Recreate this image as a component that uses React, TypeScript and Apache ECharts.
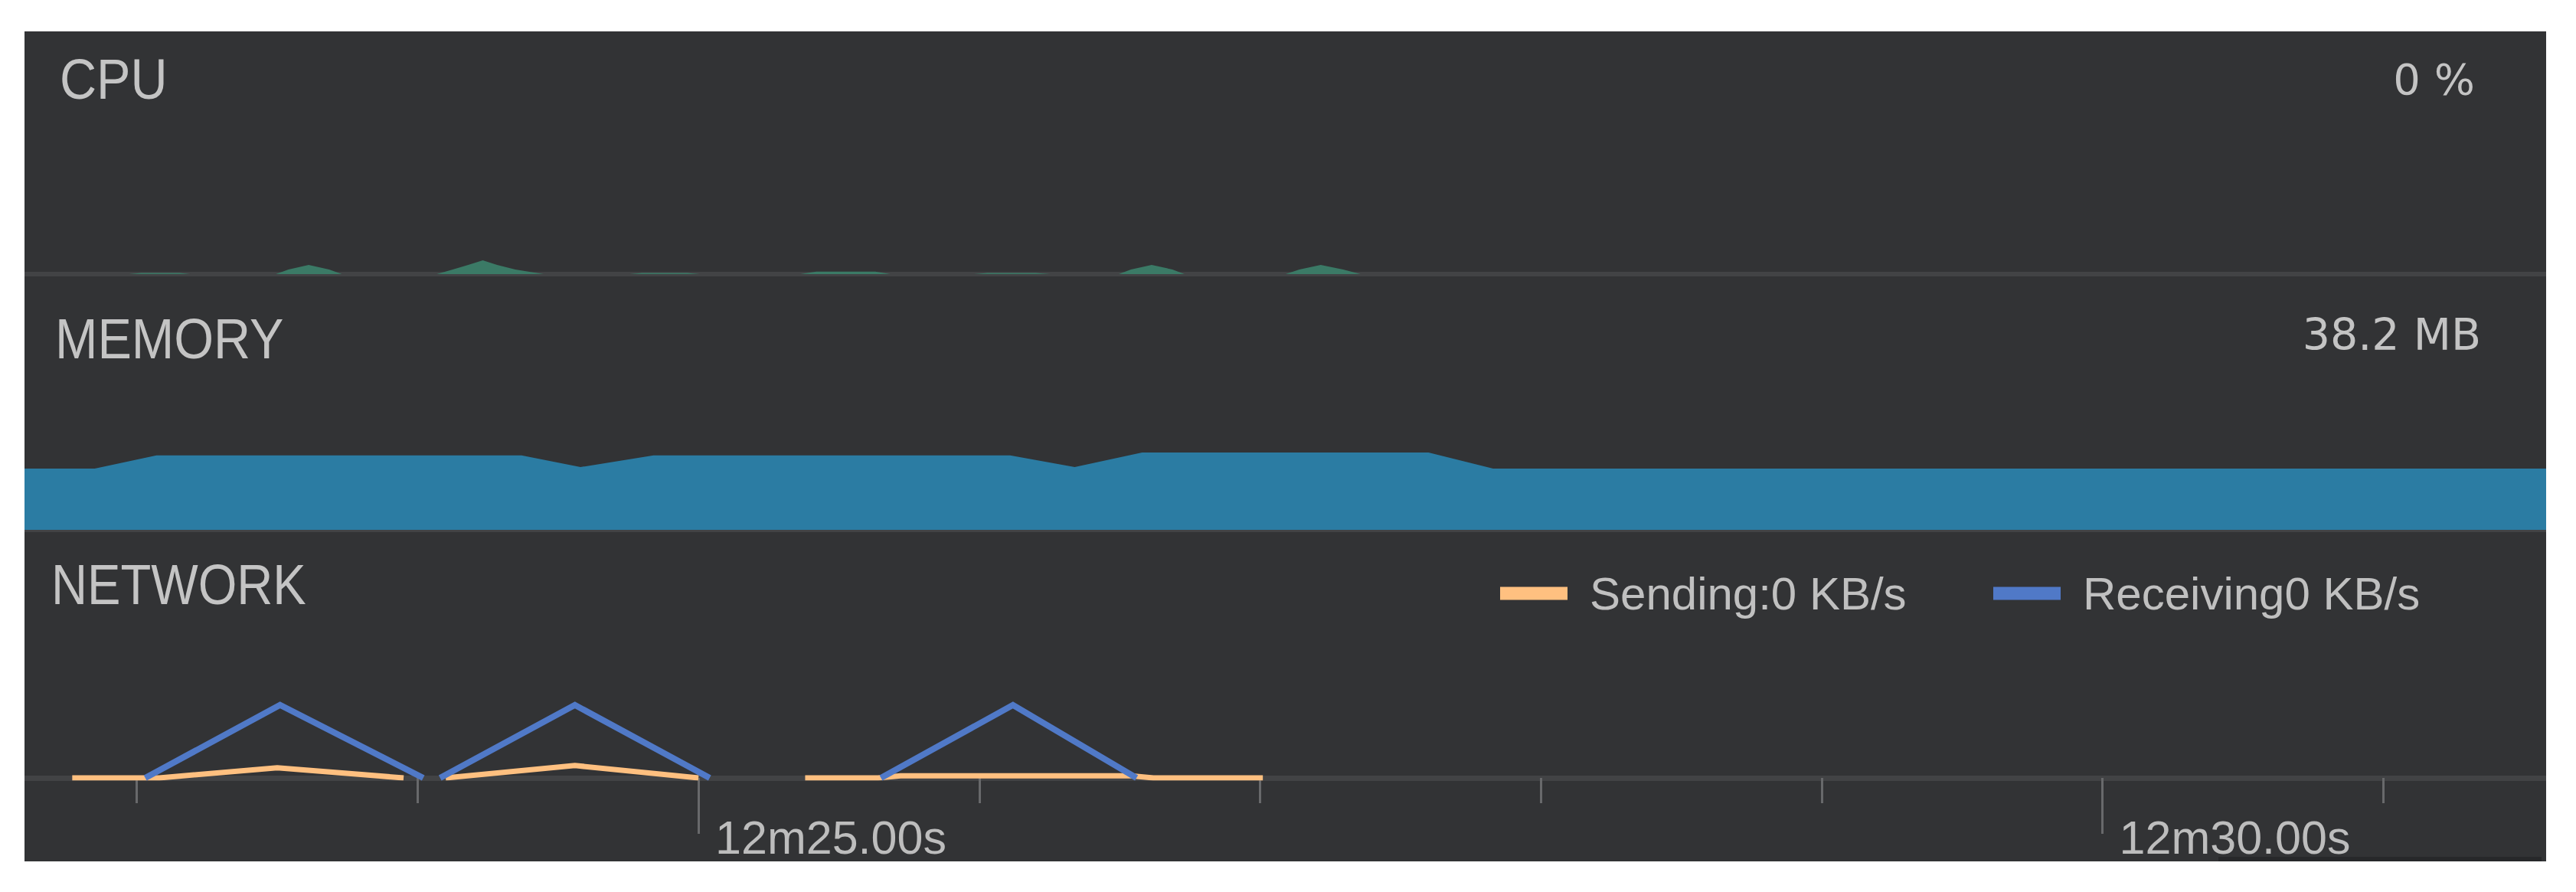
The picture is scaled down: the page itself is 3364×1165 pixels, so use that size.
import React, { useEffect, useRef } from 'react';
import * as echarts from 'echarts';

// ---- data (time in seconds after 12m) ----
const AXIS_MIN = 22.6;
const AXIS_MAX = 31.58;
const minorTickSeconds = [23, 24, 25, 26, 27, 28, 29, 30, 31];
const majorTickSeconds = [25, 30];

const cpuTimes = [22.6, 22.972, 23.015, 23.152, 23.19, 23.495, 23.54, 23.612, 23.685, 23.73, 24.068, 24.125, 24.18, 24.232, 24.283, 24.348, 24.449, 24.755, 24.8, 24.96, 25.005, 25.363, 25.42, 25.63, 25.684, 25.981, 26.03, 26.2, 26.254, 26.497, 26.54, 26.614, 26.688, 26.731, 27.091, 27.14, 27.216, 27.296, 27.358, 31.58];
const cpuValues = [0, 0, 0.5, 0.5, 0, 0, 1.9, 3.8, 1.9, 0, 0, 1.9, 3.8, 5.7, 3.8, 1.9, 0, 0, 0.5, 0.5, 0, 0, 1.0, 1.0, 0, 0, 0.5, 0.5, 0, 0, 1.9, 3.8, 1.9, 0, 0, 1.9, 3.8, 1.9, 0, 0];

const memoryTimes = [22.6, 22.85, 23.07, 24.37, 24.58, 24.84, 26.11, 26.34, 26.58, 27.6, 27.83, 31.58];
const memoryValues = [38.2, 38.2, 46.4, 46.4, 39.1, 46.4, 46.4, 39.1, 48.2, 48.2, 38.2, 38.2];

const sendTimes = [22.77, 23.08, 23.5, 23.95, 24.0, 24.1, 24.56, 25.0, 25.1, 25.38, 25.64, 25.72, 26.54, 26.62, 27.01];
const sendValues = [0, 0, 0.14, 0, null, 0, 0.17, 0, null, 0, 0, 0.03, 0.03, 0, 0];

const recvTimes = [23.03, 23.51, 24.02, 24.05, 24.08, 24.56, 25.04, 25.3, 25.65, 26.12, 26.56];
const recvValues = [0, 1.0, 0, null, 0, 1.0, 0, null, 0, 1.0, 0];

const cpuCurrent = '0 %';
const memoryCurrent = '38.2 MB';
const sendingName = 'Sending:0 KB/s';
const receivingName = 'Receiving0 KB/s';

const zip = (ts: number[], vs: (number | null)[]) => ts.map((t, i) => [t, vs[i] === null ? '-' : vs[i]]);

const SEP = '#424345';
const TEXT = '#c4c4c4';
const TICK = '#68696b';
const PANEL = '#323335';

export default function App() {
  const ref = useRef<HTMLDivElement>(null);
  useEffect(() => {
    if (!ref.current) return;
    const chart = echarts.init(ref.current, undefined, { renderer: 'svg' });
    const hiddenX = (gridIndex: number) => ({
      type: 'value', gridIndex, min: AXIS_MIN, max: AXIS_MAX, position: 'bottom', offset: 3,
      axisLine: { show: true, lineStyle: { color: SEP, width: 6, cap: 'butt' } },
      axisTick: { show: false }, axisLabel: { show: false }, splitLine: { show: false },
    });
    const hiddenY = (gridIndex: number, max: number) => ({
      type: 'value', gridIndex, min: 0, max, show: false, splitLine: { show: false },
    });
    const legendText = { color: '#c0c0c0', fontSize: 60, fontFamily: 'Liberation Sans', padding: [0, 0, 0, 24] };
    chart.setOption({
      animation: false,
      backgroundColor: '#ffffff',
      grid: [
        { left: 32, right: 39, top: 41, height: 317 },
        { left: 32, right: 39, top: 363, height: 329 },
        { left: 32, right: 39, top: 697, height: 319 },
      ],
      xAxis: [
        hiddenX(0),
        hiddenX(1),
        {
          type: 'value', gridIndex: 2, min: AXIS_MIN, max: AXIS_MAX, position: 'bottom', offset: 6,
          axisLine: { show: true, lineStyle: { color: SEP, width: 7, cap: 'butt' } },
          axisTick: { show: true, customValues: minorTickSeconds, length: 33, lineStyle: { color: TICK, width: 3 } },
          axisLabel: { show: false }, splitLine: { show: false },
        },
        {
          type: 'value', gridIndex: 2, min: AXIS_MIN, max: AXIS_MAX, position: 'bottom', offset: 6,
          axisLine: { show: false },
          axisTick: { show: true, customValues: majorTickSeconds, length: 67, lineStyle: { color: TICK, width: 3 } },
          axisLabel: {
            show: true, customValues: majorTickSeconds, margin: 72, align: 'left', verticalAlign: 'middle',
            padding: [0, 0, 0, 22], color: '#bdbdbd', fontSize: 61, fontFamily: 'Liberation Sans',
            formatter: (v: number) => `12m${v.toFixed(2)}s`,
          },
          splitLine: { show: false },
        },
      ],
      yAxis: [hiddenY(0, 100), hiddenY(1, 157), hiddenY(2, 3.35)],
      legend: [
        {
          left: 1954, top: 740, itemWidth: 88, itemHeight: 17, icon: 'rect', selectedMode: false,
          textStyle: legendText, data: [sendingName],
        },
        {
          left: 2598, top: 740, itemWidth: 88, itemHeight: 17, icon: 'rect', selectedMode: false,
          textStyle: legendText, data: [receivingName],
        },
      ],
      graphic: [
        { type: 'rect', z: -100, zlevel: 0, shape: { x: 32, y: 41, width: 3293, height: 1084 }, style: { fill: PANEL } },
        { type: 'rect', z: 100, shape: { x: 0, y: 0, width: 32, height: 1165 }, style: { fill: '#ffffff' } },
        { type: 'rect', z: 100, shape: { x: 3325, y: 0, width: 39, height: 1165 }, style: { fill: '#ffffff' } },
        { type: 'rect', shape: { x: 2897, y: 1119, width: 422, height: 6 }, style: { fill: '#27282a' } },
        { type: 'text', x: 78, y: 103.5, scaleX: 0.9, style: { text: 'CPU', fill: TEXT, font: '74px "Liberation Sans"', verticalAlign: 'middle', textVerticalAlign: 'middle' } },
        { type: 'text', x: 72, y: 442, scaleX: 0.9, style: { text: 'MEMORY', fill: TEXT, font: '74px "Liberation Sans"', verticalAlign: 'middle', textVerticalAlign: 'middle' } },
        { type: 'text', x: 67, y: 764, scaleX: 0.88, style: { text: 'NETWORK', fill: TEXT, font: '74px "Liberation Sans"', verticalAlign: 'middle', textVerticalAlign: 'middle' } },
        { type: 'text', x: 3232, y: 103, style: { text: cpuCurrent, fill: TEXT, font: '56px "DejaVu Sans"', align: 'right', textAlign: 'right', verticalAlign: 'middle', textVerticalAlign: 'middle' } },
        { type: 'text', x: 3240, y: 436.5, style: { text: memoryCurrent, fill: TEXT, font: '57px "DejaVu Sans"', align: 'right', textAlign: 'right', verticalAlign: 'middle', textVerticalAlign: 'middle' } },
      ],
      series: [
        {
          name: 'CPU', type: 'line', xAxisIndex: 0, yAxisIndex: 0, data: zip(cpuTimes, cpuValues),
          showSymbol: false, lineStyle: { width: 0 }, itemStyle: { color: '#3b7a66' },
          areaStyle: { color: '#3b7a66', opacity: 1 },
        },
        {
          name: 'MEMORY', type: 'line', xAxisIndex: 1, yAxisIndex: 1, data: zip(memoryTimes, memoryValues),
          showSymbol: false, lineStyle: { width: 0 }, itemStyle: { color: '#2b7ca3' },
          areaStyle: { color: '#2b7ca3', opacity: 1 },
        },
        {
          name: sendingName, type: 'line', xAxisIndex: 2, yAxisIndex: 2, data: zip(sendTimes, sendValues),
          showSymbol: false, connectNulls: false, itemStyle: { color: '#ffc080' },
          lineStyle: { color: '#ffc080', width: 7, join: 'miter' },
        },
        {
          name: receivingName, type: 'line', xAxisIndex: 2, yAxisIndex: 2, data: zip(recvTimes, recvValues),
          showSymbol: false, connectNulls: false, itemStyle: { color: '#5079c7' },
          lineStyle: { color: '#5079c7', width: 8, join: 'miter' },
        },
      ],
    });
    return () => chart.dispose();
  }, []);
  return (
    <div ref={ref} style={{ position: 'absolute', left: 0, top: 0, width: 3364, height: 1165 }} />
  );
}
